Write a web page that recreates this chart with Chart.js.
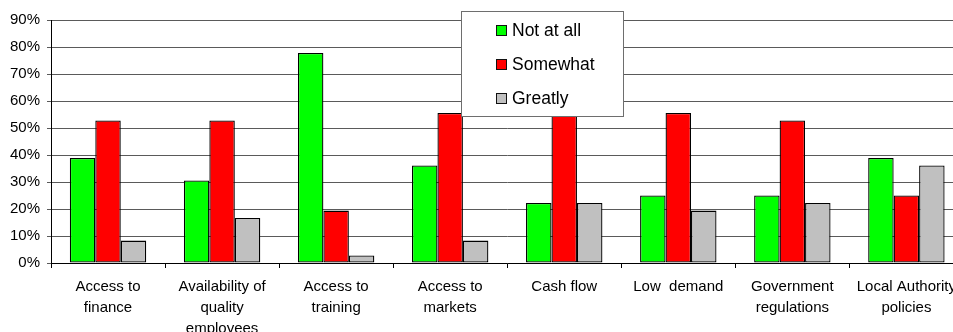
<!DOCTYPE html>
<html>
<head>
<meta charset="utf-8">
<script src="https://cdn.jsdelivr.net/npm/chart.js@4"></script>
<style>
  html, body { margin: 0; padding: 0; overflow: hidden; background: #fff; }
  #wrap { width: 964px; height: 332px; position: relative; }
</style>
</head>
<body>
<div id="wrap"><canvas id="barChart"></canvas></div>
<script>
'use strict'

// categories
const categories = [
  ['Access to', 'finance'],
  ['Availability of', 'quality', 'employees'],
  ['Access to', 'training'],
  ['Access to', 'markets'],
  'Cash flow',
  'Low  demand',
  ['Government', 'regulations'],
  ['Local Authority', 'policies']
];

// series (%)
const notAtAll = [38.9, 30.6, 77.8, 36.1, 22.2, 25.0, 25.0, 38.9];
const somewhat = [52.8, 52.8, 19.4, 55.6, 55.6, 55.6, 52.8, 25.0];
const greatly  = [8.3, 16.7, 2.8, 8.3, 22.2, 19.4, 22.2, 36.1];

const seriesNames = ['Not at all', 'Somewhat', 'Greatly'];
const seriesColors = ['#00ff00', '#ff0000', '#c0c0c0'];

const yMax = 90;
const yStep = 10;

const FONT = "'Liberation Sans', Arial, sans-serif";

// legend drawn over the plot
const boxLegend = {
  id: 'boxLegend',
  afterDraw(chart) {
    const ctx = chart.ctx;
    const x = 461, y = 11, w = 162, h = 105;
    ctx.save();
    ctx.fillStyle = '#fff';
    ctx.fillRect(x, y, w, h);
    ctx.strokeStyle = '#6e6e6e';
    ctx.lineWidth = 1;
    ctx.strokeRect(x + 0.5, y + 0.5, w, h);
    ctx.font = '17.5px ' + FONT;
    ctx.textBaseline = 'middle';
    chart.data.datasets.forEach((ds, i) => {
      const cy = 30 + i * 34;
      ctx.fillStyle = ds.backgroundColor;
      ctx.fillRect(496, cy - 5, 10, 10);
      ctx.strokeStyle = '#111';
      ctx.strokeRect(496.5, cy - 4.5, 10, 10);
      ctx.fillStyle = '#000';
      ctx.fillText(ds.label, 512, cy + 1);
    });
    ctx.restore();
  }
};

const ctx = document.getElementById('barChart');
const myChart = new Chart(ctx, {
  type: 'bar',
  data: {
    labels: categories,
    datasets: [notAtAll, somewhat, greatly].map((d, i) => ({
      label: seriesNames[i],
      data: d,
      backgroundColor: seriesColors[i],
      borderColor: '#000',
      borderWidth: 1.3,
      borderSkipped: false,
      categoryPercentage: 0.67,
      barPercentage: 1.0
    }))
  },
  options: {
    responsive: true,
    maintainAspectRatio: false,
    animation: false,
    layout: { padding: { top: 20, right: 0, left: 0, bottom: 0 } },
    scales: {
      x: {
        grid: {
          drawOnChartArea: false,
          drawTicks: true,
          tickLength: 5,
          color: '#000',
          offset: true
        },
        border: { color: '#000', width: 1 },
        ticks: {
          color: '#000',
          font: { family: FONT, size: 15, lineHeight: 1.4 },
          maxRotation: 0,
          autoSkip: false,
          padding: 8
        },
        afterFit(scale) { scale.height = 69; }
      },
      y: {
        min: 0,
        max: yMax,
        grid: {
          color: '#5a5a5a',
          tickLength: 4
        },
        border: { color: '#000', width: 1 },
        ticks: {
          stepSize: yStep,
          color: '#000',
          font: { family: FONT, size: 15 },
          padding: 7,
          callback: function(value) {
            return value + '%';
          }
        },
        afterFit(scale) { scale.width = 51; }
      }
    },
    plugins: {
      legend: { display: false },
      tooltip: { enabled: false }
    }
  },
  plugins: [boxLegend]
});
</script>
</body>
</html>
